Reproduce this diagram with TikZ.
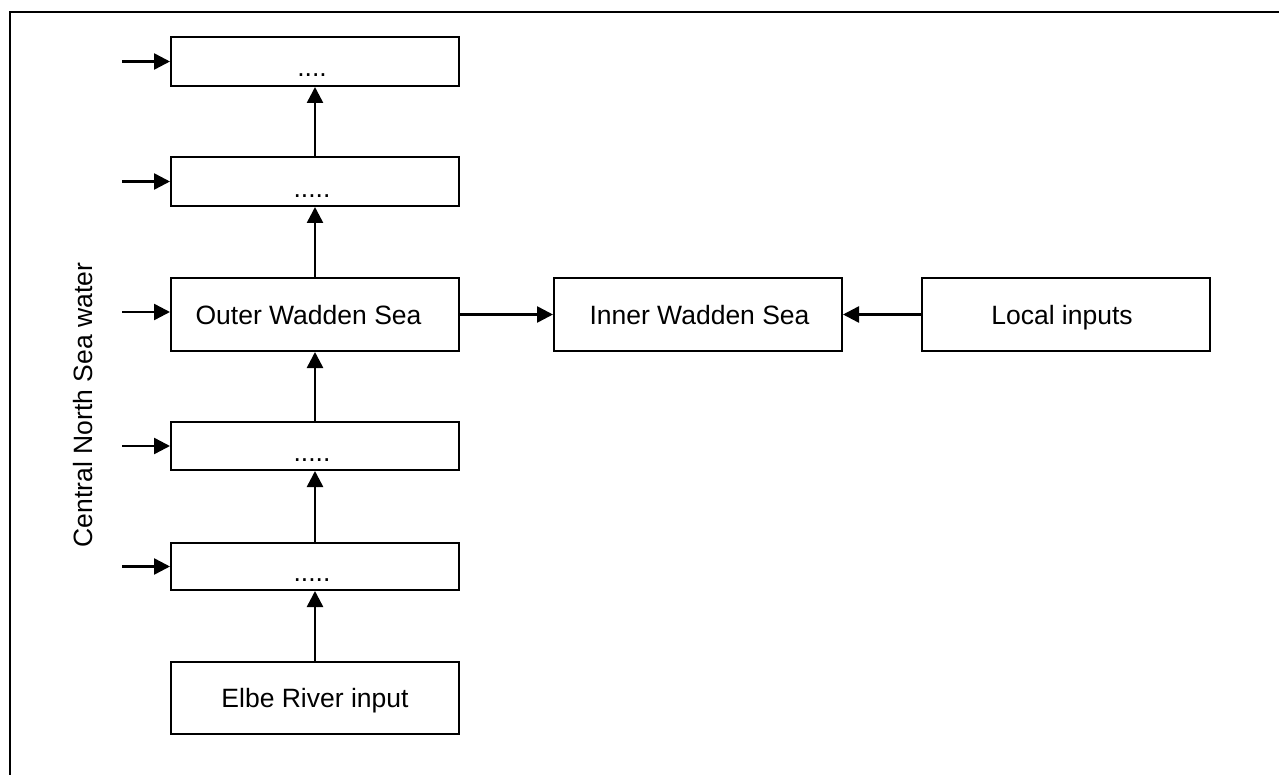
\documentclass[tikz,border=0pt]{standalone}
\usepackage{fontspec}
\setmainfont{Liberation Sans}
\usetikzlibrary{arrows.meta}
\begin{document}
\begin{tikzpicture}[x=1pt,y=-1pt,
  box/.style={draw=black, line width=2pt, minimum width=288pt, inner sep=0pt, text height=19.3pt, text depth=0pt, font=\fontsize{26.5}{30}\selectfont},
  lbl/.style={font=\fontsize{26.5}{30}\selectfont, inner sep=0pt},
  flow/.style={line width=2.5pt, -{Triangle[length=16pt,width=16pt]}},
  frameline/.style={line width=2.5pt}]
\useasboundingbox (0,0) rectangle (1279,775);
% frame (top and left only)
\coordinate (f1) at (10,775);
\coordinate (f2) at (10,12);
\coordinate (f3) at (1279,12);
\draw[frameline] (f1) -- (f2) -- (f3);
% left column
\node[box, minimum height=49pt] (b1) at (315,61.5) {};
\node[box, minimum height=49pt] (b2) at (315,181.5) {};
\node[box, minimum height=73pt] (outer) at (315,314.5) {Outer Wadden Sea\kern13pt};
\node[box, minimum height=48pt] (b4) at (315,446) {};
\node[box, minimum height=47pt] (b5) at (315,566.5) {};
\node[box, minimum height=72pt] (elbe) at (315,698) {Elbe River input};
% right boxes
\node[box, minimum height=73pt] (inner) at (698,314.5) {\kern3pt Inner Wadden Sea};
\node[box, minimum height=73pt] (local) at (1066,314.5) {Local inputs\kern8pt};
% dots
\node[lbl, anchor=base] (d1) at (312,76.5) {....};
\node[lbl, anchor=base] (d2) at (312,198) {.....};
\node[lbl, anchor=base] (d4) at (312,461.5) {.....};
\node[lbl, anchor=base] (d5) at (312,581.5) {.....};
% side label
\node[lbl, rotate=90] (cns) at (83,405) {Central North Sea water};
% inflow arrows
\coordinate (s1) at (122,61.5);
\coordinate (s2) at (122,181.5);
\coordinate (s3) at (122,312);
\coordinate (s4) at (122,446);
\coordinate (s5) at (122,566.5);
\draw[flow] (s1) -- (s1 -| b1.west);
\draw[flow] (s2) -- (s2 -| b2.west);
\draw[flow] (s3) -- (s3 -| outer.west);
\draw[flow] (s4) -- (s4 -| b4.west);
\draw[flow] (s5) -- (s5 -| b5.west);
% vertical arrows
\draw[flow] (elbe.north) -- (b5.south);
\draw[flow] (b5.north) -- (b4.south);
\draw[flow] (b4.north) -- (outer.south);
\draw[flow] (outer.north) -- (b2.south);
\draw[flow] (b2.north) -- (b1.south);
% horizontal arrows
\draw[flow] (outer.east) -- (inner.west);
\draw[flow] (local.west) -- (inner.east);
\end{tikzpicture}
\end{document}
